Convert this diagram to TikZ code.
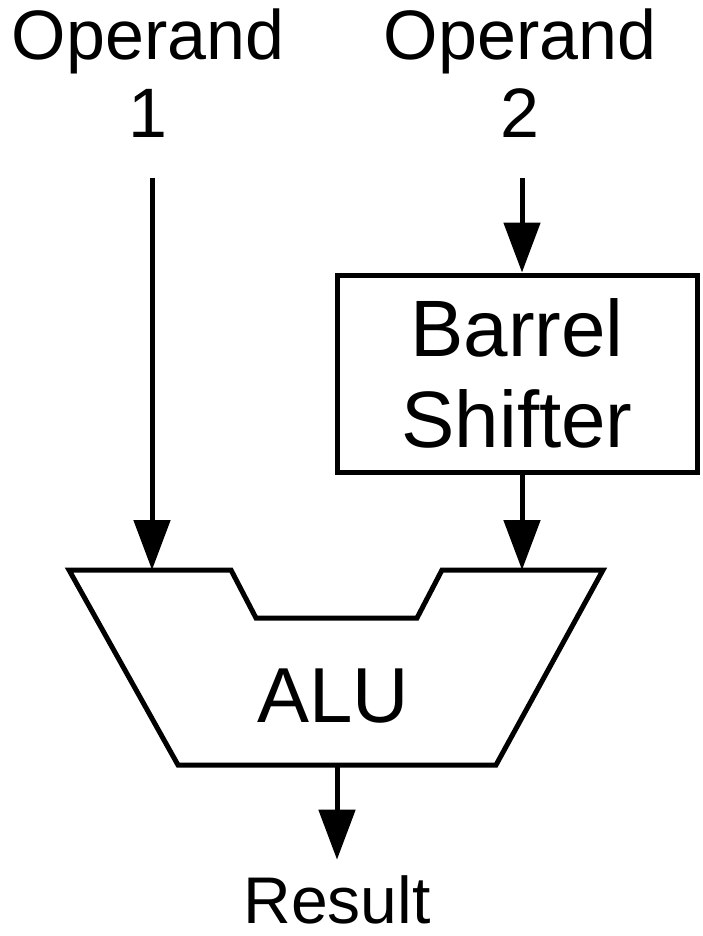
\documentclass[tikz,border=0pt]{standalone}
\usepackage{fontspec}
\setmainfont{Liberation Sans}
\usetikzlibrary{arrows.meta,calc,positioning}

\begin{document}
\begin{tikzpicture}[x=1pt,y=-1pt,
    line width=5pt,
    txt/.style={inner sep=0pt, align=center},
    flow/.style={-{Triangle[length=50pt,width=36pt]}},
  ]
  \useasboundingbox (0,0) rectangle (703,936);
  % Operands
  \node[txt, font=\fontsize{70}{78}\selectfont, anchor=south] (op1) at (148,140) {Operand\\1};
  \node[txt, font=\fontsize{70}{78}\selectfont, anchor=south] (op2) at (520,140) {Operand\\2};
  % Barrel shifter
  \node[draw, minimum width=360pt, minimum height=197pt, align=center,
    font=\fontsize{80}{91}\selectfont] (shifter) at (517,373.5) {Barrel\\Shifter};
  % ALU outline
  \coordinate (alu-in1) at (152,570);
  \coordinate (alu-in2) at (522,570);
  \coordinate (alu-out) at (337,765);
  \draw[line join=miter] (69,570) -- (231,570) -- (256,618) -- (417,618)
    -- (442,570) -- (603,570) -- (496,765) -- (178,765) -- cycle;
  \node[txt, font=\fontsize{78}{90}\selectfont, anchor=base] (alu) at (333,722) {ALU};
  % Result
  \node[txt, font=\fontsize{66}{80}\selectfont, anchor=base] (result) at (337,923) {Result};
  % Signals
  \draw[flow, shorten <=38pt] (op1.south -| alu-in1) -- (alu-in1);
  \draw[flow, shorten <=38pt] (op2.south -| alu-in2) -- (shifter.north -| alu-in2);
  \draw[flow] (shifter.south -| alu-in2) -- (alu-in2);
  \draw[flow, shorten >=13pt] (alu-out) -- (result.north);
\end{tikzpicture}
\end{document}
